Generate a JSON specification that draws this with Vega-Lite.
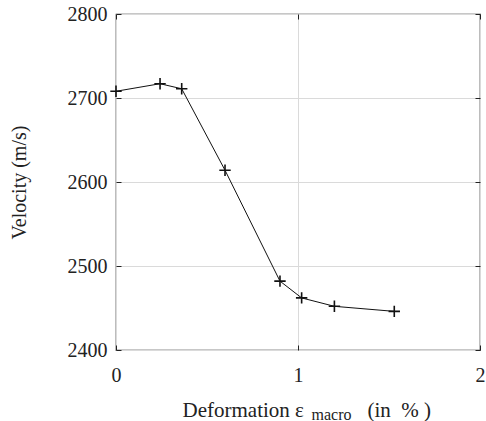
{
  "$schema": "https://vega.github.io/schema/vega-lite/v6.json",
  "width": 364,
  "height": 336,
  "autosize": {"type": "none"},
  "padding": {"left": 116, "top": 14, "right": 6, "bottom": 71},
  "background": "white",
  "config": {
    "font": "Liberation Serif",
    "view": {"stroke": "#222222", "strokeWidth": 1.2},
    "axis": {
      "domain": false,
      "grid": true,
      "gridColor": "#dadada",
      "gridWidth": 1,
      "tickColor": "#222222",
      "tickSize": -5,
      "labelFont": "Liberation Serif",
      "labelFontSize": 20,
      "labelColor": "#222222",
      "labelFlush": false,
      "labelOverlap": false,
      "labelBound": false,
      "titleFont": "Liberation Serif",
      "titleFontWeight": "normal",
      "titleColor": "#222222"
    }
  },
  "data": {
    "values": [
      {"strain": 0.0, "velocity": 2708},
      {"strain": 0.242, "velocity": 2717},
      {"strain": 0.361, "velocity": 2711},
      {"strain": 0.599, "velocity": 2614},
      {"strain": 0.901, "velocity": 2482},
      {"strain": 1.02, "velocity": 2462},
      {"strain": 1.2, "velocity": 2452},
      {"strain": 1.529, "velocity": 2446}
    ]
  },
  "layer": [
    {
      "mark": {"type": "line", "color": "#111111", "strokeWidth": 1},
      "encoding": {
        "x": {
          "field": "strain", "type": "quantitative",
          "scale": {"domain": [0, 2], "nice": false, "zero": false},
          "axis": {
            "orient": "bottom", "values": [0, 1, 2], "tickCount": 10,
            "labelExpr": "format(datum.value, 'd')",
            "labelPadding": 20,
            "title": "Deformation ε",
            "titleFontSize": 21,
            "titleAlign": "left", "titleAnchor": "start", "titleBaseline": "alphabetic",
            "titleX": 66, "titleY": 66
          }
        },
        "y": {
          "field": "velocity", "type": "quantitative",
          "scale": {"domain": [2400, 2800], "nice": false, "zero": false},
          "axis": {
            "orient": "left", "values": [2400, 2500, 2600, 2700, 2800], "tickCount": 10, "format": "d",
            "labelPadding": 14,
            "title": "Velocity (m/s)", "titleFontSize": 20, "titlePadding": 38
          }
        }
      }
    },
    {
      "mark": {"type": "point", "shape": "M-1,0L1,0M0,-1L0,1", "size": 130, "stroke": "#111111", "strokeWidth": 1.6, "filled": false, "opacity": 1},
      "encoding": {
        "x": {
          "field": "strain", "type": "quantitative",
          "scale": {"domain": [0, 2], "nice": false, "zero": false},
          "axis": {
            "orient": "top", "values": [0, 1, 2], "tickCount": 10, "labels": false, "grid": false,
            "title": "macro", "titleFontSize": 16,
            "titleAlign": "center", "titleBaseline": "alphabetic",
            "titleX": 215, "titleY": 405
          }
        },
        "y": {
          "field": "velocity", "type": "quantitative",
          "scale": {"domain": [2400, 2800], "nice": false, "zero": false},
          "axis": {
            "orient": "right", "values": [2400, 2500, 2600, 2700, 2800], "tickCount": 10, "labels": false, "grid": false,
            "title": "(in\u00a0\u00a0%\u00a0)", "titleFontSize": 21, "titleAngle": 0,
            "titleAlign": "left", "titleBaseline": "alphabetic",
            "titleX": -113, "titleY": 402
          }
        }
      }
    }
  ],
  "resolve": {"axis": {"x": "independent", "y": "independent"}}
}
